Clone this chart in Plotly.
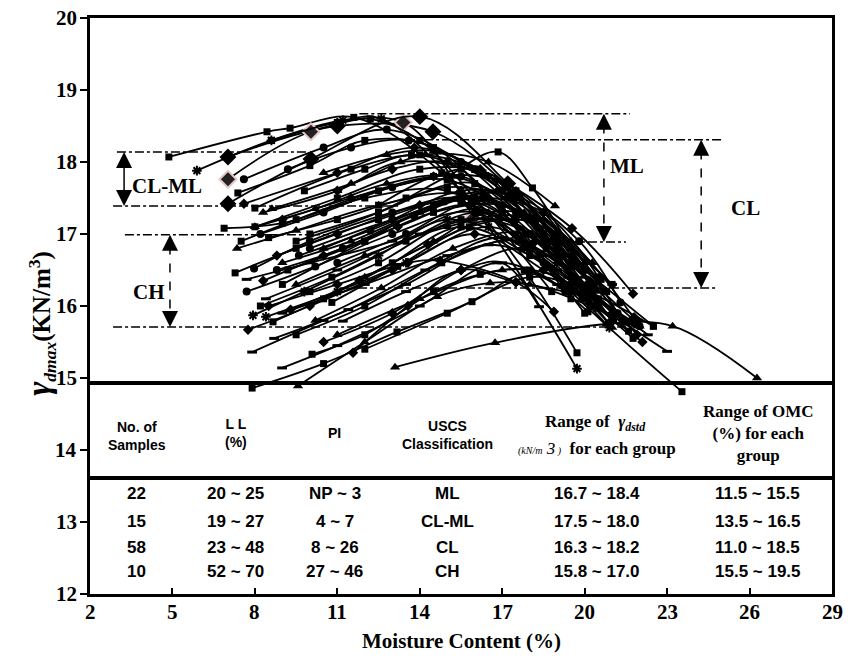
import plotly.graph_objects as go

# ---------------- data ----------------
x_ticks = [2, 5, 8, 11, 14, 17, 20, 23, 26, 29]
y_ticks = [12, 13, 14, 15, 16, 17, 18, 19, 20]

# compaction curves: marker key, moisture content (%), dry unit weight (kN/m3)
curve_symbols = [
    "sq", "a", "bd", "p", "bd", "c", "sq", "d", "sq", "t",
    "sq", "t", "sq", "t", "sq", "c", "c", "ds", "a", "sq",
    "d", "ds", "ds", "sq", "d", "sq", "t", "t", "sq", "d",
    "ds", "t", "sq", "c", "d", "sq", "t", "ds", "sq", "d",
    "sq", "t", "c", "sq", "a", "sq", "d", "t", "sq", "d",
    "sq", "t", "sq", "c", "t", "sq", "ds", "c", "sq", "d",
    "t", "c", "sq", "d", "t", "ds", "sq", "c",
]
curve_x = [
    [4.87, 8.44, 9.28, 11.6, 14.8, 17.8, 19.72],
    [5.89, 8.6, 11.2, 12.6, 15.5, 19.72],
    [7.02, 11.0, 14.48, 17.5, 20.2],
    [7.02, 10.04, 13.4, 15.95],
    [7.02, 10.04, 14.0, 17.2, 19.6, 21.8],
    [7.6, 10.5, 12.8, 15.5, 18.5, 21.0],
    [7.38, 10.0, 12.0, 14.5, 17.0, 19.5],
    [7.6, 11.0, 13.8, 16.2, 19.54, 21.76],
    [9.5, 12.5, 15.0, 16.85, 18.1, 19.5],
    [8.62, 11.5, 14.2, 16.5, 18.92],
    [8.0, 11.5, 14.0, 16.0, 18.5, 20.6],
    [8.3, 11.0, 13.3, 16.5, 18.5, 20.27],
    [6.88, 9.0, 12.0, 15.0, 17.5, 20.0],
    [7.35, 9.5, 12.5, 15.5, 18.0, 21.0],
    [7.28, 9.5, 12.5, 15.5, 18.0, 21.4],
    [7.97, 10.0, 13.0, 15.5, 18.0, 20.5],
    [7.7, 10.2, 13.0, 16.0, 18.5, 22.0],
    [7.7, 10.0, 13.0, 16.0, 18.0, 20.0],
    [7.93, 9.8, 12.5, 15.0, 17.8, 20.9],
    [8.66, 10.5, 13.0, 15.5, 18.0, 21.76],
    [7.75, 10.0, 13.0, 16.0, 18.5, 22.1],
    [7.9, 10.5, 13.5, 16.5, 19.0, 21.0],
    [8.99, 11.0, 14.0, 16.8, 19.0, 23.0],
    [10.08, 12.0, 14.5, 16.2, 18.0, 19.3],
    [11.57, 13.57, 15.5, 17.5, 19.3],
    [7.9, 10.5, 13.17, 15.9, 18.0, 20.12],
    [9.57, 12.0, 14.63, 16.56, 18.0, 20.5],
    [13.1, 16.74, 20.8, 23.2, 26.27],
    [9.0, 12.0, 14.5, 16.3, 19.5, 23.54],
    [8.5, 11.0, 13.57, 14.74, 17.5, 18.88],
    [11.2, 13.5, 15.5, 17.0, 18.34],
    [9.0, 11.5, 14.0, 16.8, 19.5, 22.0],
    [8.5, 11.0, 13.5, 16.0, 19.0, 22.5],
    [8.2, 10.5, 13.0, 15.5, 17.5, 20.0],
    [8.8, 11.0, 14.0, 16.5, 18.5, 20.3],
    [9.2, 12.0, 14.5, 17.0, 19.0, 20.8],
    [9.5, 12.0, 15.0, 17.5, 19.5, 21.2],
    [8.4, 11.0, 14.0, 16.5, 18.5, 21.5],
    [8.0, 11.0, 14.0, 16.3, 18.2, 19.9],
    [9.0, 11.5, 14.5, 16.8, 18.5, 20.0],
    [10.0, 12.5, 15.0, 17.2, 19.0, 21.0],
    [10.5, 13.0, 15.5, 17.5, 19.5],
    [11.0, 13.5, 16.0, 18.0, 20.3],
    [10.0, 12.5, 15.5, 18.0, 20.2],
    [8.4, 11.0, 13.5, 16.5, 19.0, 21.4],
    [9.5, 12.0, 14.8, 17.6, 20.5],
    [10.5, 13.0, 15.5, 18.0, 21.0],
    [12.0, 14.5, 16.5, 18.5, 20.0],
    [12.5, 14.5, 16.0, 17.5, 19.0],
    [11.0, 13.0, 15.0, 17.0, 19.0],
    [9.8, 12.0, 13.7, 15.5, 17.0, 19.5],
    [10.5, 12.8, 14.5, 16.5, 18.5],
    [8.6, 11.0, 12.2, 14.0, 16.0, 18.8],
    [9.2, 11.5, 13.6, 16.0, 18.5, 21.0],
    [11.0, 14.0, 17.0, 19.0, 21.0],
    [12.0, 15.0, 18.0, 19.5, 22.5],
    [9.0, 12.0, 15.0, 18.5, 21.0],
    [10.0, 13.0, 16.0, 18.5, 20.5],
    [7.5, 9.5, 12.5, 15.0, 17.5, 20.5],
    [8.3, 10.5, 13.2, 15.8, 18.2, 20.9],
    [8.0, 10.2, 12.8, 15.2, 17.8, 20.4],
    [8.8, 11.2, 13.8, 16.3, 18.8, 21.2],
    [8.2, 10.8, 13.5, 16.2, 18.6, 21.6],
    [9.3, 11.8, 14.3, 16.9, 19.2, 21.9],
    [10.2, 12.6, 15.2, 17.8, 20.1],
    [8.7, 11.4, 14.2, 17.0, 19.4, 22.3],
    [10.8, 13.2, 15.8, 18.2, 20.7],
    [9.6, 12.2, 14.9, 17.3, 19.8, 21.3],
]
curve_y = [
    [18.07, 18.42, 18.47, 18.62, 17.85, 16.5, 15.35],
    [17.88, 18.3, 18.58, 18.6, 17.6, 15.13],
    [18.07, 18.5, 18.42, 17.55, 16.3],
    [17.76, 18.42, 18.55, 17.22],
    [17.42, 18.04, 18.63, 17.7, 16.6, 15.8],
    [17.76, 18.2, 18.45, 18.0, 16.9, 15.8],
    [17.57, 17.95, 18.3, 18.2, 17.3, 16.2],
    [17.42, 17.85, 18.2, 17.9, 17.08, 16.17],
    [16.9, 17.3, 17.8, 18.14, 17.64, 16.8],
    [17.35, 17.7, 18.1, 18.0, 17.39],
    [17.36, 17.9, 18.1, 17.9, 17.0, 16.37],
    [17.3, 17.6, 18.0, 17.8, 17.2, 16.6],
    [17.08, 17.15, 17.5, 17.6, 17.0, 15.9],
    [16.8, 17.05, 17.4, 17.55, 17.0, 15.8],
    [16.46, 16.8, 17.2, 17.45, 16.8, 15.8],
    [16.52, 16.9, 17.3, 17.5, 17.0, 16.0],
    [16.2, 16.55, 17.0, 17.3, 16.6, 15.72],
    [16.37, 16.6, 16.9, 17.35, 17.0, 16.4],
    [15.87, 16.2, 16.7, 17.2, 16.8, 15.7],
    [15.78, 16.1, 16.6, 17.1, 16.7, 15.55],
    [15.67, 16.0, 16.5, 17.0, 16.5, 15.5],
    [15.36, 15.8, 16.3, 16.85, 16.5, 15.8],
    [15.14, 15.45, 16.0, 16.6, 16.3, 15.37],
    [15.33, 15.6, 16.2, 16.44, 16.5, 16.2],
    [15.35, 16.0, 16.5, 16.33, 16.2],
    [14.86, 15.2, 15.64, 16.06, 16.45, 15.92],
    [14.89, 15.5, 16.13, 16.32, 16.3, 15.95],
    [15.15, 15.49, 15.75, 15.72, 15.0],
    [16.3, 16.9, 17.4, 17.55, 16.2, 14.81],
    [16.0, 16.3, 16.6, 16.63, 16.33, 15.92],
    [15.79, 16.2, 16.5, 16.6, 15.99],
    [16.6, 16.9, 17.3, 17.6, 16.9, 15.72],
    [16.95, 17.2, 17.5, 17.7, 16.8, 15.72],
    [17.0, 17.3, 17.65, 17.8, 17.3, 16.5],
    [16.7, 17.0, 17.4, 17.5, 17.0, 16.3],
    [16.5, 16.9, 17.3, 17.4, 17.0, 16.2],
    [16.3, 16.7, 17.1, 17.25, 16.8, 15.9],
    [16.1, 16.5, 17.0, 17.2, 16.7, 15.75],
    [17.1, 17.5, 17.9, 17.85, 17.2, 16.1],
    [17.2, 17.5, 17.8, 17.75, 17.3, 16.5],
    [17.0, 17.3, 17.65, 17.5, 17.0, 16.3],
    [16.8, 17.2, 17.6, 17.5, 16.7],
    [16.6, 17.0, 17.45, 17.2, 16.0],
    [16.2, 16.6, 17.2, 17.0, 16.0],
    [15.85, 16.2, 16.6, 17.1, 16.6, 15.8],
    [15.6, 16.0, 16.6, 16.9, 16.1],
    [15.5, 15.9, 16.5, 16.8, 15.9],
    [16.4, 16.9, 17.3, 17.2, 16.6],
    [17.4, 17.8, 17.9, 17.6, 16.9],
    [17.6, 17.9, 18.0, 17.6, 16.7],
    [17.6, 17.9, 18.1, 17.9, 17.3, 16.1],
    [17.85, 18.1, 18.15, 17.8, 16.9],
    [18.3, 18.55, 18.6, 18.3, 17.5, 16.2],
    [17.9, 18.2, 18.3, 17.9, 17.0, 15.8],
    [15.6, 16.1, 16.5, 16.4, 15.7],
    [15.4, 15.9, 16.4, 16.3, 15.72],
    [15.9, 16.3, 16.7, 16.95, 16.3],
    [16.8, 17.2, 17.5, 17.3, 16.4],
    [16.9, 17.2, 17.6, 17.75, 17.2, 16.0],
    [16.35, 16.7, 17.1, 17.4, 16.9, 15.75],
    [17.1, 17.35, 17.7, 17.8, 17.3, 16.2],
    [16.5, 16.8, 17.25, 17.5, 16.9, 15.9],
    [16.0, 16.4, 16.9, 17.3, 16.8, 15.65],
    [15.95, 16.35, 16.85, 17.2, 16.7, 15.6],
    [15.8, 16.25, 16.8, 17.0, 16.1],
    [15.55, 15.95, 16.5, 16.95, 16.4, 15.6],
    [16.05, 16.55, 17.1, 17.15, 16.2],
    [16.7, 17.05, 17.45, 17.55, 16.9, 16.05],
]

# group range guide lines (value, x start, x end)
guide_lines = [
    (18.67, 11.8, 21.65),   # ML top
    (18.31, 13.5, 25.0),    # CL top
    (18.14, 2.98, 9.9),     # CL-ML top
    (17.39, 2.84, 13.3),    # CL-ML bottom
    (16.99, 3.27, 10.7),    # CH top
    (16.89, 17.5, 21.5),    # ML bottom
    (16.25, 11.1, 24.8),    # CL bottom
    (15.71, 2.84, 22.0),    # CH bottom
]
# group arrows: label, x of arrow, top, bottom, dashed, label x, label y, anchor
group_arrows = [
    ("CL-ML", 3.24, 18.14, 17.39, False, 3.45, 17.66, "left"),
    ("CH", 4.91, 16.99, 15.71, True, 4.15, 16.2, "center"),
    ("ML", 20.7, 18.67, 16.89, True, 21.55, 17.95, "center"),
    ("CL", 24.24, 18.31, 16.25, True, 25.85, 17.36, "center"),
]

# embedded table
table_rule_y = [14.93, 13.61]
col_x = [3.71, 7.31, 10.9, 15.0, 20.45, 26.3]
row_y = [13.40, 13.01, 12.65, 12.31]
header_y = 14.19
table_rows = [
    ["22", "20 ~ 25", "NP ~ 3", "ML", "16.7 ~ 18.4", "11.5 ~ 15.5"],
    ["15", "19 ~ 27", "4 ~ 7", "CL-ML", "17.5 ~ 18.0", "13.5 ~ 16.5"],
    ["58", "23 ~ 48", "8 ~ 26", "CL", "16.3 ~ 18.2", "11.0 ~ 18.5"],
    ["10", "52 ~ 70", "27 ~ 46", "CH", "15.8 ~ 17.0", "15.5 ~ 19.5"],
]

# ---------------- styling ----------------
SERIF = "Liberation Serif"
SANS = "Liberation Sans, Arial, sans-serif"

marker_styles = {
    "sq": dict(symbol="square", size=7, color="black", line=dict(width=0)),
    "bd": dict(symbol="diamond", size=13, color="black", line=dict(width=0)),
    "d": dict(symbol="diamond", size=8, color="black", line=dict(width=0)),
    "t": dict(symbol="triangle-up", size=9, color="black", line=dict(width=0)),
    "c": dict(symbol="circle", size=8, color="black", line=dict(width=0)),
    "ds": dict(symbol="line-ew", size=7, color="black", line=dict(width=3, color="black")),
    "a": dict(symbol="asterisk", size=8, color="black", line=dict(width=2, color="black")),
    "p": dict(symbol="diamond", size=13, color="#222222", line=dict(width=2, color="#e6c6c6")),
}

fig = go.Figure()
for sym, xs, ys in zip(curve_symbols, curve_x, curve_y):
    fig.add_trace(go.Scatter(
        x=xs, y=ys, mode="lines+markers",
        line=dict(color="black", width=1.8, shape="spline", smoothing=1.0),
        marker=marker_styles[sym], showlegend=False, hoverinfo="skip",
        cliponaxis=True,
    ))

shapes = []
annotations = []
for yv, x0, x1 in guide_lines:
    shapes.append(dict(type="line", xref="x", yref="y", x0=x0, x1=x1, y0=yv, y1=yv,
                       line=dict(color="black", width=1.5, dash="dashdot")))

for label, xa, ytop, ybot, dashed, lx, ly, anchor in group_arrows:
    shapes.append(dict(type="line", xref="x", yref="y", x0=xa, x1=xa, y0=ytop - 0.15, y1=ybot + 0.15,
                       line=dict(color="black", width=1.5, dash="dash" if dashed else "solid")))
    for yt, ay in ((ytop, 14), (ybot, -14)):
        annotations.append(dict(x=xa, y=yt, xref="x", yref="y", text="", showarrow=True,
                                ax=0, ay=ay, arrowhead=2, arrowsize=1.6, arrowwidth=2,
                                arrowcolor="black", standoff=0))
    annotations.append(dict(x=lx, y=ly, xref="x", yref="y", text="<b>%s</b>" % label,
                            showarrow=False, xanchor=anchor, yanchor="middle",
                            font=dict(family=SERIF, size=21, color="black")))

# table rules
shapes.append(dict(type="line", xref="paper", yref="y", x0=0, x1=1, y0=table_rule_y[0], y1=table_rule_y[0],
                   line=dict(color="black", width=4)))
shapes.append(dict(type="line", xref="paper", yref="y", x0=-0.003, x1=1, y0=table_rule_y[1], y1=table_rule_y[1],
                   line=dict(color="black", width=4)))

# table header
sans_head = dict(family=SANS, size=14, color="black")
serif_head = dict(family=SERIF, size=17, color="black")
head = [
    dict(x=col_x[0], y=header_y, text="<b>No. of<br>Samples</b>", font=sans_head),
    dict(x=col_x[1], y=header_y + 0.04, text="<b>L L<br>(%)</b>", font=sans_head),
    dict(x=col_x[2], y=header_y + 0.05, text="<b>PI</b>", font=sans_head),
    dict(x=col_x[3], y=header_y + 0.02, text="<b>USCS<br>Classification</b>", font=sans_head),
    dict(x=col_x[4] - 0.05, y=header_y + 0.18, text="<b>Range of  <i>γ</i><sub><i>dstd</i></sub></b>", font=serif_head),
    dict(x=col_x[4], y=header_y - 0.17,
         text="<span style='font-size:10px'><i>(kN/m</i></span> <i>3</i><span style='font-size:10px'><i> )</i></span>  <b>for each group</b>",
         font=serif_head),
    dict(x=col_x[5], y=header_y + 0.04, text="<b>Range of OMC<br>(%) for each<br>group</b>", font=serif_head),
]
for a in head:
    a.update(xref="x", yref="y", showarrow=False, xanchor="center", yanchor="middle")
annotations += head

for r, row in enumerate(table_rows):
    for c, cell in enumerate(row):
        annotations.append(dict(x=col_x[c], y=row_y[r], xref="x", yref="y", text="<b>%s</b>" % cell,
                                showarrow=False, xanchor="center", yanchor="middle",
                                font=dict(family=SANS, size=17, color="black")))

# tick labels (bold serif)
tick_font = dict(family=SERIF, size=21, color="black", weight="bold")
for v in x_ticks:
    annotations.append(dict(x=v, y=-0.032, xref="x", yref="paper", text="<b>%d</b>" % v,
                            showarrow=False, xanchor="center", yanchor="middle", font=tick_font))
for v in y_ticks:
    annotations.append(dict(x=-0.015, y=v, xref="paper", yref="y", text="<b>%d</b>" % v,
                            showarrow=False, xanchor="right", yanchor="middle", font=tick_font))

# axis titles
annotations.append(dict(x=-0.068, y=0.47, xref="paper", yref="paper", textangle=-90,
                        text="<b><i><span style='font-size:34px'>γ</span></i><sub><i>dmax</i></sub>(KN/m<sup>3</sup>)</b>",
                        showarrow=False, xanchor="center", yanchor="middle",
                        font=dict(family=SERIF, size=25, color="black")))
annotations.append(dict(x=0.5, y=-0.082, xref="paper", yref="paper", text="<b>Moisture Content (%)</b>",
                        showarrow=False, xanchor="center", yanchor="middle",
                        font=dict(family=SERIF, size=21, color="black")))

fig.update_layout(
    width=856, height=661,
    margin=dict(l=90, r=24, t=18, b=67),
    paper_bgcolor="white", plot_bgcolor="white",
    font=dict(family=SERIF, color="black"),
    shapes=shapes, annotations=annotations,
    showlegend=False,
)
fig.update_xaxes(range=[2, 29], tickvals=x_ticks, showticklabels=False,
                 ticks="inside", ticklen=6, tickwidth=1.5, tickcolor="black",
                 showline=True, linecolor="black", linewidth=2.5, mirror=True, showgrid=False, zeroline=False)
fig.update_yaxes(range=[12, 20], tickvals=y_ticks, showticklabels=False,
                 ticks="outside", ticklen=7, tickwidth=1.5, tickcolor="black",
                 showline=True, linecolor="black", linewidth=2.5, mirror=True, showgrid=False, zeroline=False)

fig.write_html("out.html")
